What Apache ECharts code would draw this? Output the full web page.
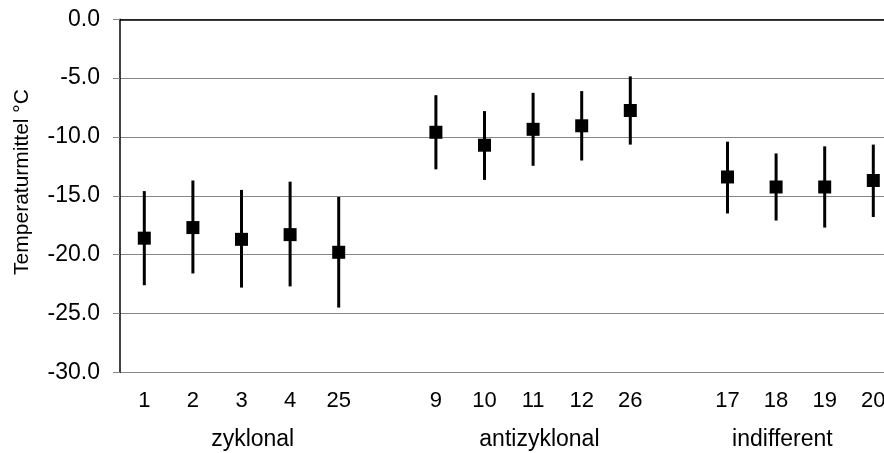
<!DOCTYPE html>
<html>
<head>
<meta charset="utf-8">
<script src="https://cdn.jsdelivr.net/npm/echarts@6/dist/echarts.min.js"></script>
<style>html,body{margin:0;padding:0;background:#fff;}#c{width:884px;height:453px;}</style>
</head>
<body>
<div id="c"></div>
<script>
// ---- data ----
const categories = ['1','2','3','4','25','','9','10','11','12','26','','17','18','19','20'];
const means = [-18.6,-17.7,-18.7,-18.3,-19.8,null,-9.6,-10.7,-9.35,-9.05,-7.75,null,-13.4,-14.25,-14.25,-13.7];
const upper = [-14.6,-13.7,-14.5,-13.8,-15.1,null,-6.45,-7.8,-6.25,-6.1,-4.85,null,-10.4,-11.4,-10.8,-10.65];
const lower = [-22.6,-21.6,-22.8,-22.7,-24.5,null,-12.75,-13.65,-12.45,-12.0,-10.65,null,-16.5,-17.1,-17.7,-16.8];
const groups = ['zyklonal','antizyklonal','indifferent'];
const yTitle = 'Temperaturmittel °C';
const yMin = -30, yMax = 0, yStep = 5;

// ---- layout ----
const FONT = '"Liberation Sans", Arial, sans-serif';
const groupAnchor = [2.23, 8.13, 13.13]; // label centre in category-slot units

const chart = echarts.init(document.getElementById('c'), null, {renderer:'canvas'});

const scatterData = [];
const barData = [];
means.forEach((m, i) => {
  if (m !== null) {
    scatterData.push([i, m]);
    barData.push([i, upper[i], lower[i]]);
  }
});

chart.setOption({
  animation: false,
  backgroundColor: '#fff',
  grid: {left: 120, top: 19.3, width: 777.6, height: 353, containLabel: false, outerBoundsMode: 'none'},
  xAxis: [{
    type: 'category',
    data: categories,
    position: 'bottom',
    axisLine: {show: false},
    axisTick: {show: false},
    axisLabel: {color: '#000', fontFamily: FONT, fontSize: 22, margin: 18, interval: 0},
    splitLine: {show: false}
  }, {
    type: 'category',
    data: categories,
    position: 'top',
    axisLine: {show: true, lineStyle: {color: '#000', width: 1.5}},
    axisTick: {show: false},
    axisLabel: {show: false}
  }],
  yAxis: {
    type: 'value',
    min: yMin, max: yMax, interval: yStep,
    axisLine: {show: true, lineStyle: {color: '#000', width: 1.5}},
    axisTick: {show: true, length: 7, lineStyle: {color: '#868686'}},
    axisLabel: {color: '#000', fontFamily: FONT, fontSize: 23, margin: 20,
      formatter: v => v.toFixed(1)},
    splitLine: {show: true, lineStyle: {color: '#868686', width: 1.2}}
  },
  series: [{
    type: 'custom',
    data: barData,
    encode: {x: 0, y: [1, 2]},
    renderItem: function (params, api) {
      const x = api.value(0);
      const hi = api.coord([x, api.value(1)]);
      const lo = api.coord([x, api.value(2)]);
      return {type: 'line', shape: {x1: hi[0], y1: hi[1], x2: lo[0], y2: lo[1]},
        style: {stroke: '#000', lineWidth: 3}};
    },
    z: 2
  }, {
    type: 'scatter',
    data: scatterData,
    symbol: 'rect',
    symbolSize: 13,
    itemStyle: {color: '#000', opacity: 1},
    z: 3
  }]
});

const p0 = chart.convertToPixel({xAxisIndex: 0}, 0);
const p1 = chart.convertToPixel({xAxisIndex: 0}, 1);
const step = p1 - p0;
const graphics = groups.map((g, i) => ({
  type: 'text',
  x: p0 + groupAnchor[i] * step,
  y: 440,
  style: {text: g, font: '23px ' + FONT, fill: '#000', align: 'center', verticalAlign: 'middle'}
}));
graphics.push({
  type: 'text',
  x: 22,
  y: 182,
  rotation: Math.PI / 2,
  style: {text: yTitle, font: '21px ' + FONT, fill: '#000', align: 'center', verticalAlign: 'middle'}
});
chart.setOption({graphic: graphics});
</script>
</body>
</html>
